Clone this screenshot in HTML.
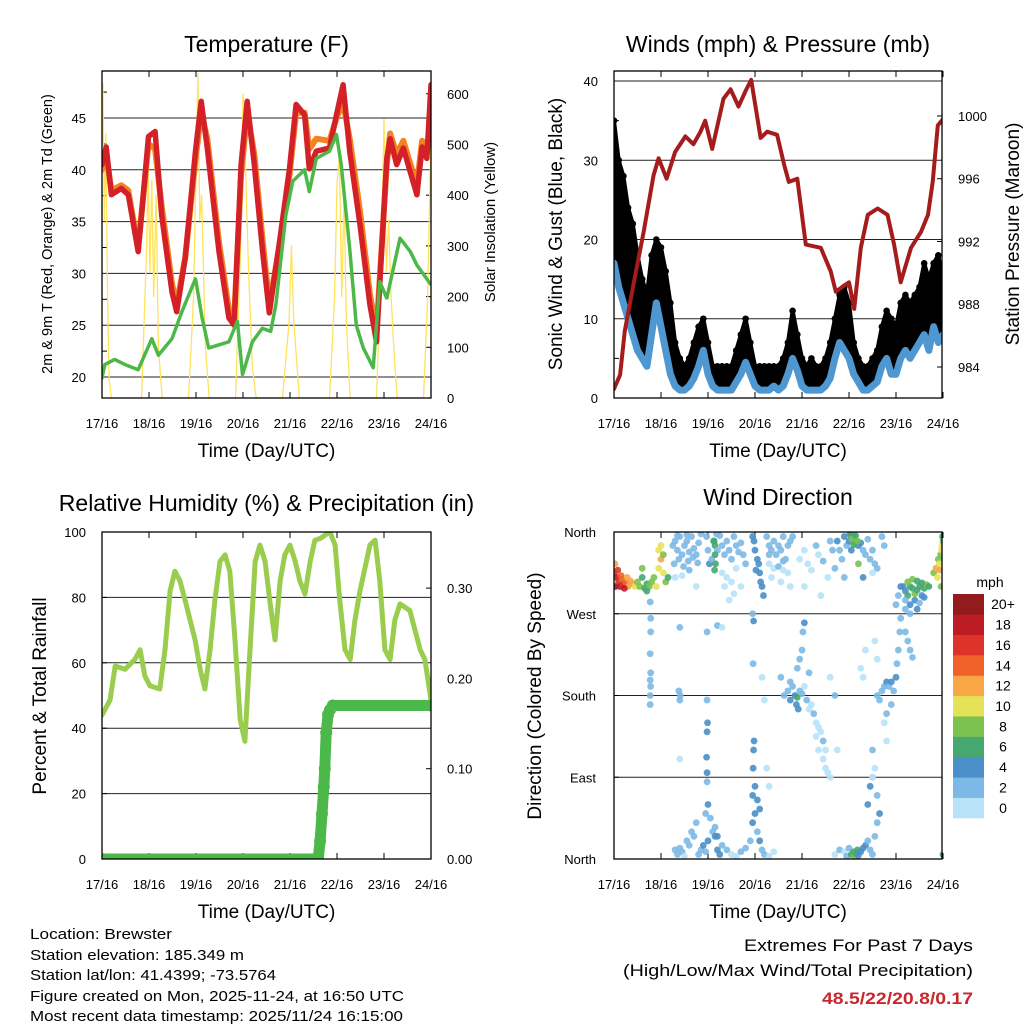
<!DOCTYPE html>
<html><head><meta charset="utf-8"><style>
html,body{margin:0;padding:0;background:#fff}
svg{display:block;font-family:"Liberation Sans",sans-serif}
</style></head><body>
<svg id="fig" width="1024" height="1024" viewBox="0 0 1024 1024" xmlns="http://www.w3.org/2000/svg">
<rect width="1024" height="1024" fill="#fff"/>
<g id="p1"></g>
<g id="p2"></g>
<g id="p3"></g>
<g id="p4"></g>
<g font-size="15" fill="#000">
<text x="30" y="939" textLength="142" lengthAdjust="spacingAndGlyphs">Location: Brewster</text>
<text x="30" y="960" textLength="214" lengthAdjust="spacingAndGlyphs">Station elevation: 185.349 m</text>
<text x="30" y="980" textLength="246" lengthAdjust="spacingAndGlyphs">Station lat/lon: 41.4399; -73.5764</text>
<text x="30" y="1001" textLength="374" lengthAdjust="spacingAndGlyphs">Figure created on Mon, 2025-11-24, at 16:50 UTC</text>
<text x="30" y="1021" textLength="373" lengthAdjust="spacingAndGlyphs">Most recent data timestamp: 2025/11/24 16:15:00</text>
</g>
<g text-anchor="end">
<text x="973" y="951" font-size="17" textLength="229" lengthAdjust="spacingAndGlyphs">Extremes For Past 7 Days</text>
<text x="973" y="976" font-size="17" textLength="350" lengthAdjust="spacingAndGlyphs">(High/Low/Max Wind/Total Precipitation)</text>
<text x="973" y="1004" font-size="17" font-weight="bold" fill="#c8282d" textLength="151" lengthAdjust="spacingAndGlyphs">48.5/22/20.8/0.17</text>
</g>
</svg>
<script>
// ---------- data ----------
const dayLabels=["17/16","18/16","19/16","20/16","21/16","22/16","23/16","24/16"];
const tempTicks=[20,25,30,35,40,45];
const solarTicks=[0,100,200,300,400,500,600];
const windTicks=[0,10,20,30,40];
const presTicks=[984,988,992,996,1000];
const rhTicks=[0,20,40,60,80,100];
const precipTicks=[0,0.1,0.2,0.3];
const precipTickLabels=["0.00","0.10","0.20","0.30"];
const dirTicks=[0,90,180,270,360];
const dirTickLabels=["North","East","South","West","North"];
const speedBins=["0","2","4","6","8","10","12","14","16","18","20+"];
const speedColors=["#b7e2f8","#7cb9e6","#4a8fc8","#46a770","#7bc24e","#e6e257","#f8a646","#f0622a","#dd3328","#bc1c24","#931a1d"];

const tempTime=[0,0.09,0.2,0.41,0.56,0.77,0.99,1.13,1.27,1.49,1.59,1.77,1.99,2.11,2.24,2.49,2.7,2.81,2.96,3.09,3.24,3.41,3.56,3.77,3.99,4.13,4.31,4.41,4.56,4.84,4.99,5.13,5.27,5.49,5.7,5.84,6.06,6.13,6.27,6.41,6.7,6.81,6.91,7];
const temp2m=[40.5,42.2,37.6,38.2,37.6,32.1,43.2,43.7,35.6,28.2,26.3,31.5,41.8,46.6,42.1,32.1,25.7,25,40.5,46.6,40.5,32.4,26.2,32.8,40.1,46.3,45.3,40.1,41.8,42.1,45.3,48.2,41.8,34.7,27,23.4,41.1,43,40.5,42.1,37.6,42.2,41.1,48.2];
const temp9m=[40,41.5,38,38.5,38,32.5,42.5,42,36.5,29,27,31.5,41,45.5,43,33,26.5,25.5,39.5,45.5,41.5,33.5,27,32.5,39.5,45.5,45.5,42,43,42.8,45,46.5,43,36,28,24.5,40.5,43.5,41.5,42.8,38.5,42.8,41.5,46];
const dewTime=[0,0.06,0.27,0.49,0.77,1.06,1.2,1.49,1.7,1.99,2.13,2.27,2.7,2.88,2.99,3.2,3.41,3.59,3.7,3.91,4.06,4.31,4.41,4.56,4.84,4.99,5.09,5.27,5.41,5.56,5.77,5.91,6.06,6.34,6.56,6.7,7];
const dewPoint=[19.9,21.2,21.7,21.2,20.7,23.7,22.1,23.7,26.3,29.5,25.7,22.8,23.4,25.4,20.2,23.4,24.7,24.4,27,35.6,38.9,40,37.9,41.1,41.8,43.4,40.5,32.4,25,22.8,20.9,29.2,27.6,33.4,32.1,30.8,28.9];
const solarTime=[0,0.02,0.05,0.08,0.12,0.15,0.2,0.84,0.95,0.98,1.02,1.06,1.1,1.15,1.2,1.28,1.84,1.95,2.0,2.04,2.08,2.12,2.2,2.28,2.84,2.95,3.0,3.03,3.07,3.12,3.2,3.28,3.84,3.98,4.03,4.08,4.2,4.84,4.95,5.0,5.05,5.1,5.15,5.2,5.28,5.84,5.95,6.0,6.05,6.1,6.15,6.22,6.28,6.84,6.93,6.97,7.0];
const solarW=[500,620,350,520,200,40,0,0,300,450,250,430,200,400,100,0,0,200,450,640,350,400,100,0,0,300,600,560,400,250,60,0,0,150,300,150,0,0,200,420,480,200,400,150,0,0,300,550,250,350,200,80,0,0,200,400,520];

const windTime=[0,0.1,0.2,0.3,0.4,0.5,0.6,0.7,0.8,0.9,1.0,1.1,1.2,1.3,1.4,1.5,1.6,1.7,1.8,1.9,2.0,2.1,2.2,2.3,2.4,2.5,2.6,2.7,2.8,2.9,3.0,3.1,3.2,3.3,3.4,3.5,3.6,3.7,3.8,3.9,4.0,4.1,4.2,4.3,4.4,4.5,4.6,4.7,4.8,4.9,5.0,5.1,5.2,5.3,5.4,5.5,5.6,5.7,5.8,5.9,6.0,6.1,6.2,6.3,6.4,6.5,6.6,6.7,6.8,6.9,7.0];
const gust=[28,22,20,17,15,11,10,8,12,17,14,11,8,4,3,3,3.5,5,7,8,5,3,3,3,3,3,4,5.5,7,5,3,3,3,3,3,3,3.5,5,7,6,3,2.5,3,2.5,3,3.5,5,7,9,9,8,5,3.5,3,3,3,4,6,8,7,6,8,9,8,9,10,12,10,11,12,10];
const gustHigh=[35,30,28,24,22,18,15,13,18,20,19,16,12,7,5,4,5,7,9,10,7,4,4,4,4,4,6,8,10,7,4,4,4,4,4,4,5,7,11,8,5,4,5,4,4,5,7,10,13,14,12,7,5,4,4,5,6,9,11,10,9,12,13,12,13,14,17,15,17,18,15];
const sonicWind=[17,14,12,10,8,6,5,4,8,12,9,6,3,1.5,1,1,1.5,2.5,4,6,3,1.5,1,1,1,1,2,3,4.5,3,1.5,1,1,1,1.5,1,1.5,3,5,3.5,1.5,1,1,1,1,1.5,2.5,5,7,6,5,3,2,1,1,1.5,2,4,5,3,3,5,6,5,6,7,8,6,9,7,8];
const presTime=[0,0.13,0.23,0.41,0.63,0.84,0.95,1.12,1.3,1.52,1.69,1.84,1.94,2.09,2.33,2.48,2.65,2.8,2.92,3.12,3.26,3.47,3.62,3.72,3.9,4.08,4.4,4.61,4.72,4.9,5.0,5.11,5.25,5.4,5.61,5.82,5.96,6.1,6.32,6.53,6.68,6.78,6.89,7.0];
const pressure=[982.6,983.5,986.3,989.2,992.6,996.2,997.3,996,997.7,998.7,998.2,999,999.7,997.9,1001.1,1001.7,1000.6,1001.6,1002.3,998.6,999,998.8,996.9,995.8,996,991.8,991.6,990.1,988.8,989.2,989.4,987.7,991.6,993.7,994.1,993.7,991.8,989.4,991.6,992.6,993.7,995.8,999.4,999.8];

const rhTime=[0,0.17,0.28,0.49,0.70,0.81,0.91,1.02,1.23,1.34,1.45,1.55,1.66,1.77,1.98,2.09,2.19,2.30,2.40,2.51,2.62,2.72,2.83,2.94,3.04,3.15,3.26,3.36,3.47,3.57,3.68,3.79,3.89,4.0,4.11,4.21,4.32,4.43,4.53,4.64,4.74,4.85,4.96,5.06,5.17,5.28,5.38,5.49,5.70,5.81,5.91,6.02,6.13,6.23,6.34,6.55,6.77,6.87,7.0];
const rhPct=[44,48.6,59,58,61,64,56,53,52,64,82,88,85,79,67,58,52,64,79,91,93,88,67,42.5,36,64,91,96,91,79,67,85,93,96,91,85,81,91,97.5,98,99,100,96,79,64,61,73,82,96,97.5,85,64,61,73,78,76,64,61,48.6];
const precipTime=[0,4.6,4.64,4.68,4.72,4.74,4.77,4.81,4.85,4.91,7.0];
const precipIn=[0,0,0.02,0.05,0.08,0.1,0.14,0.16,0.165,0.17,0.17];

const wdTime=[
0,0.03,0.06,0.1,0.13,0.17,0.2,0.25,0.3,0.35,0.4,0.45,0.02,0.08,0.15,0.22,0.28,
0.5,0.55,0.6,0.65,0.7,0.75,0.8,0.85,0.9,0.95,1.0,1.05,1.1,1.15,0.95,1.0,1.05,0.6,0.7,
0.77,0.78,0.78,0.77,0.78,0.77,0.78,
1.25,1.3,1.35,1.4,1.45,1.5,1.55,1.6,1.65,1.7,1.75,1.8,1.85,1.28,1.38,1.48,1.58,1.68,1.78,1.3,1.45,1.6,1.75,1.35,1.55,
1.97,2.0,2.03,2.08,2.12,2.15,2.18,2.2,2.25,2.3,2.35,2.4,2.45,2.5,2.55,2.6,2.65,2.7,2.75,2.8,2.13,2.15,2.16,2.14,2.3,2.4,2.5,2.6,2.7,2.45,2.55,2.35,
2.95,2.98,3.0,3.05,3.1,3.12,3.15,3.18,3.02,3.08,
3.25,3.3,3.35,3.4,3.45,3.5,3.55,3.6,3.65,3.7,3.75,3.8,3.3,3.4,3.5,3.6,3.7,3.35,3.55,3.75,3.3,3.6,
3.95,4.05,4.12,4.2,4.3,4.35,4.45,4.55,4.6,4.65,4.7,4.05,4.4,
4.75,4.8,4.85,4.9,4.95,5.0,5.05,5.1,5.15,5.2,5.25,5.3,5.35,5.4,5.45,5.5,5.55,5.6,5.02,5.06,5.1,5.14,5.18,5.2,4.9,5.3,5.5,5.7,5.75,
6.15,6.2,6.25,6.3,6.35,6.4,6.45,6.5,6.55,6.6,6.65,6.7,6.2,6.3,6.4,6.5,6.6,6.25,6.35,6.45,6.55,6.2,6.3,6.45,
6.8,6.85,6.88,6.9,6.92,6.95,6.97,6.98,7.0,6.99,6.93,6.96,
3.62,3.7,3.75,3.8,3.85,3.9,3.95,4.0,4.05,4.1,4.15,4.2,4.25,4.3,4.35,4.4,4.45,4.5,3.9,3.95,4.0,4.02,4.05,4.3,4.35,4.45,4.5,4.55,4.6,3.55,3.75,4.15,4.7,4.6,3.88,3.92,
5.6,5.65,5.7,5.75,5.8,5.85,5.9,5.95,6.0,6.02,6.05,6.08,6.1,5.55,5.6,5.75,5.8,6.0,6.05,6.1,5.9,5.8,
1.3,1.35,1.4,1.45,1.5,1.55,1.6,1.65,1.7,1.75,1.8,1.85,1.9,1.95,2.0,2.1,2.15,2.2,2.25,2.3,2.4,2.5,2.6,2.7,2.8,2.9,2.95,3.0,3.05,3.1,3.15,3.2,3.3,3.4,1.95,2.0,2.05,2.15,2.2,2.95,3.0,3.05,3.1,
4.7,4.8,4.9,4.95,5.0,5.05,5.1,5.12,5.15,5.18,5.2,5.25,5.3,5.35,5.4,5.45,5.5,5.55,5.6,5.65,5.4,5.45,5.5,5.6,7.0,
0.77,0.77,1.4,1.41,1.4,1.38,1.4,1.98,1.98,1.99,1.98,1.97,1.98,1.98,2.2,2.3,2.95,2.97,2.96,2.98,2.97,2.96,3.15,3.2,3.25,3.3,5.35,5.3,5.5,5.55,5.5,5.25,6.2,6.25,6.3,6.35,4.75];
const wdDir=[
315,300,310,305,300,308,302,305,300,306,303,300,325,318,312,298,310,
305,300,310,298,303,300,305,310,300,320,330,315,305,310,340,345,335,320,295,
283,265,250,226,205,197,190,
345,350,340,355,335,345,350,338,355,342,335,348,358,325,330,322,328,332,326,310,312,318,300,356,357,
355,340,325,330,350,345,358,340,356,345,335,350,340,330,355,345,338,348,335,325,350,335,325,318,315,310,305,320,300,285,292,300,
355,350,340,330,315,305,300,290,318,325,
355,345,340,350,335,345,340,355,330,345,350,355,325,320,322,318,315,310,305,300,335,328,
330,340,325,318,345,335,328,310,350,340,320,300,290,
350,340,330,355,345,350,340,355,350,345,348,340,335,352,330,340,325,320,358,352,346,356,350,325,310,310,315,355,345,
300,295,290,300,298,292,296,300,290,298,302,300,285,280,285,282,288,305,308,306,304,275,270,275,
315,320,310,330,325,335,340,345,350,355,318,300,
180,185,175,190,180,178,185,182,190,175,165,170,160,150,145,140,130,120,210,220,230,250,260,135,120,110,100,95,90,200,195,205,180,200,170,165,
180,175,185,190,195,190,195,185,200,215,230,250,265,240,220,150,130,280,290,300,170,160,
10,5,12,8,3,20,15,30,25,40,5,10,15,8,20,30,25,10,5,15,10,5,3,8,12,20,40,50,30,20,10,5,3,8,50,60,45,35,25,70,80,65,55,
5,10,8,3,12,5,8,3,6,10,4,8,12,15,20,10,5,25,40,50,60,80,90,70,5,
180,170,255,180,175,185,110,250,175,150,140,112,95,85,257,255,270,262,215,130,120,100,200,175,100,80,230,200,120,100,90,210,250,240,230,222,120];
const wdSpeed=[
16,20,18,16,18,14,16,14,12,12,12,10,12,16,14,18,13,
8,8,6,7,6,8,9,8,10,11,12,10,8,7,10,11,8,9,6,
2,2,2,2,2,2,2,
2,3,2,3,2,3,3,2,3,2,3,2,3,2,2,3,2,2,3,1,1,2,1,3,2,
3,2,4,3,6,7,3,2,3,3,2,3,3,2,3,3,2,3,3,2,6,7,6,6,1,1,1,1,1,1,1,1,
4,4,5,4,5,4,5,4,4,4,
3,3,2,3,3,2,3,3,2,3,2,3,1,1,2,1,1,1,1,1,2,2,
1,1,1,1,2,1,2,1,3,2,2,1,1,
4,3,3,4,3,4,4,6,5,4,4,3,3,3,3,2,2,2,7,8,6,7,8,8,2,4,1,2,2,
4,4,6,7,6,8,7,6,4,6,8,7,3,4,4,3,4,8,8,6,6,3,3,4,
8,12,10,8,10,8,10,10,8,6,12,8,
2,3,4,3,4,6,3,2,1,2,1,1,2,1,1,1,2,1,3,3,2,3,4,1,1,1,1,1,1,3,3,2,3,1,4,4,
2,3,2,3,4,3,4,3,4,3,3,3,3,1,1,1,1,3,3,4,3,2,
2,2,3,2,1,3,2,3,2,3,2,3,4,3,4,3,4,5,4,3,2,1,1,2,2,3,4,4,3,4,3,2,1,1,3,4,3,3,4,4,5,4,4,
1,2,1,2,3,6,7,8,7,6,4,4,5,4,3,2,2,3,3,4,4,4,3,3,6,
2,2,2,2,2,2,1,2,3,4,4,4,4,3,2,1,3,4,2,4,4,4,1,1,1,1,1,1,2,1,1,1,2,2,2,3,1];

// ---------- helpers ----------
const NS="http://www.w3.org/2000/svg";
function mk(parent,tag,attrs,text){const e=document.createElementNS(NS,tag);for(const k in attrs)e.setAttribute(k,attrs[k]);if(text!==undefined)e.textContent=text;parent.appendChild(e);return e;}
function pathD(xs,ys,fx,fy){let d="";for(let i=0;i<Math.min(xs.length,ys.length);i++){d+=(i?"L":"M")+fx(xs[i]).toFixed(1)+","+fy(ys[i]).toFixed(1);}return d;}
function poly(parent,xs,ys,fx,fy,attrs){return mk(parent,"path",Object.assign({d:pathD(xs,ys,fx,fy),fill:"none","stroke-linejoin":"round","stroke-linecap":"round"},attrs));}

function frame(g,L,T,R,B,title,ty,xlabelY){
  const t=mk(g,"text",{x:(L+R)/2,y:ty,"font-size":"23","text-anchor":"middle"},title);
  
  
  for(let i=0;i<dayLabels.length;i++){
    const x=L+i*47;
    mk(g,"line",{x1:x,y1:B,x2:x,y2:B-6,stroke:"#000","stroke-width":"1"});
    mk(g,"line",{x1:x,y1:T,x2:x,y2:T+6,stroke:"#000","stroke-width":"1"});
    const lb=mk(g,"text",{x:x,y:B+30,"font-size":"13","text-anchor":"middle"},dayLabels[i]);
    
    
  }
  const xt=mk(g,"text",{x:(L+R)/2,y:xlabelY,"font-size":"19","text-anchor":"middle"},"Time (Day/UTC)");
  
  
}
function border(g,L,T,R,B){const r=mk(g,"rect",{x:L,y:T,width:R-L,height:B-T,fill:"none",stroke:"#000","stroke-width":"1.3"});}
function grid(g,L,R,y){mk(g,"line",{x1:L,y1:y,x2:R,y2:y,stroke:"#222","stroke-width":"1"});}
function minor(g,x,y,T,B,dir){if(y>T+1&&y<B-1)mk(g,"line",{x1:x,y1:y,x2:x+dir*5,y2:y,stroke:"#000"});}
function vlabel(g,x,y,txt,size,name){const t=mk(g,"text",{x:x,y:y,"font-size":size,"text-anchor":"middle",transform:"rotate(-90 "+x+" "+y+")"},txt);}

// ---------- Panel 1 ----------
(function(){
const g=document.getElementById("p1");const L=102,T=71,R=431,B=398;
const X=d=>L+d*47, Y=v=>377-(v-20)*10.36, YS=w=>398-w*0.507;
frame(g,L,T,R,B,"Temperature (F)",52,457);
tempTicks.forEach(v=>{grid(g,L,R,Y(v));const t=mk(g,"text",{x:L-16,y:Y(v)+5,"font-size":"13","text-anchor":"end"},String(v));minor(g,L,Y(v+2.5),T,B,1);});
solarTicks.forEach(v=>{const t=mk(g,"text",{x:R+16,y:YS(v)+5,"font-size":"13"},String(v));minor(g,R,YS(v),T-2,B+2,-1);});
const cp=mk(g,"g",{"clip-path":"url(#c1)"});
const s=poly(cp,solarTime,solarW,X,YS,{stroke:"#ffe35a","stroke-width":"1.3"});
const o=poly(cp,tempTime,temp9m,X,Y,{stroke:"#f58220","stroke-width":"6"});
const r=poly(cp,tempTime,temp2m,X,Y,{stroke:"#d42027","stroke-width":"5.5"});
const dg=poly(cp,dewTime,dewPoint,X,Y,{stroke:"#4cb848","stroke-width":"3.5","stroke-dasharray":"3 1.2"});
border(g,L,T,R,B);
vlabel(g,52,234,"2m & 9m T (Red, Orange) & 2m Td (Green)","14.5","left-y-axis-title");
vlabel(g,495,222,"Solar Insolation (Yellow)","15","right-y-axis-title");
})();

// ---------- Panel 2 ----------
(function(){
const g=document.getElementById("p2");const L=614,T=71,R=942,B=398;
const X=d=>L+d*47, Y=v=>398-v*7.925, YP=p=>367-(p-984)*15.69;
frame(g,L,T,R,B,"Winds (mph) & Pressure (mb)",52,457);
windTicks.forEach(v=>{if(v>0)grid(g,L,R,Y(v));const t=mk(g,"text",{x:L-16,y:Y(v)+5,"font-size":"13","text-anchor":"end"},String(v));minor(g,L,Y(v+5),T,B,1);});
presTicks.forEach(v=>{const t=mk(g,"text",{x:R+16,y:YP(v)+5,"font-size":"13"},String(v));minor(g,R,YP(v),T,B,-1);});
const cp=mk(g,"g",{"clip-path":"url(#c2)"});
// black gust band between sonic wind and gust upper envelope
let d=pathD(windTime,gustHigh,X,Y);
for(let i=windTime.length-1;i>=0;i--){d+="L"+X(windTime[i]).toFixed(1)+","+Y(sonicWind[i]).toFixed(1);}
const band=mk(cp,"path",{d:d+"Z",fill:"#000",stroke:"#000","stroke-width":"4","stroke-linejoin":"round"});


for(let i=0;i<windTime.length;i++){
  const c=mk(cp,"circle",{cx:X(windTime[i]),cy:Y(gustHigh[i]),r:3.3,fill:"#000"});
  const c2=mk(cp,"circle",{cx:X(windTime[i]),cy:Y(gust[i]),r:3.3,fill:"#000"});
}
const wl=poly(cp,windTime,sonicWind,X,Y,{stroke:"#4e97d1","stroke-width":"7"});
const pl=poly(cp,presTime,pressure,X,YP,{stroke:"#a51c1c","stroke-width":"4"});
border(g,L,T,R,B);
vlabel(g,562,234,"Sonic Wind & Gust (Blue, Black)","19","left-y-axis-title");
vlabel(g,1019,234,"Station Pressure (Maroon)","19","right-y-axis-title");
})();

// ---------- Panel 3 ----------
(function(){
const g=document.getElementById("p3");const L=102,T=532,R=431,B=859;
const X=d=>L+d*47, Y=v=>859-v*3.27, YP=p=>859-p*903;
frame(g,L,T,R,B,"Relative Humidity (%) & Precipitation (in)",511,918);
rhTicks.forEach(v=>{if(v>0&&v<100)grid(g,L,R,Y(v));const t=mk(g,"text",{x:L-16,y:Y(v)+5,"font-size":"13","text-anchor":"end"},String(v));minor(g,L,Y(v),T,B,1);});
precipTicks.forEach((v,i)=>{const t=mk(g,"text",{x:R+16,y:YP(v)+5,"font-size":"13"},precipTickLabels[i]);minor(g,R,YP(v),T,B,-1);});
const cp=mk(g,"g",{"clip-path":"url(#c3)"});
const rl=poly(cp,rhTime,rhPct,X,Y,{stroke:"#9acd4e","stroke-width":"5"});
const pl=poly(cp,precipTime,precipIn,X,YP,{stroke:"#4cb84a","stroke-width":"11"});
for(let i=0;i<precipTime.length;i++){const c=mk(cp,"circle",{cx:X(precipTime[i]),cy:YP(precipIn[i]),r:6,fill:"#4cb84a"});}
border(g,L,T,R,B);
vlabel(g,46,696,"Percent & Total Rainfall","19","left-y-axis-title");
})();

// ---------- Panel 4 ----------
(function(){
const g=document.getElementById("p4");const L=614,T=532,R=942,B=859;
const X=d=>L+d*47, Y=v=>859-v*327/360;
frame(g,L,T,R,B,"Wind Direction",505,918);
dirTicks.forEach((v,i)=>{if(v>0&&v<360)grid(g,L,R,Y(v));const t=mk(g,"text",{x:L-18,y:Y(v)+5,"font-size":"13","text-anchor":"end"},dirTickLabels[i]);minor(g,L,Y(v),T,B,1);});
const cp=mk(g,"g",{"clip-path":"url(#c4)"});
const n=Math.min(wdTime.length,wdDir.length,wdSpeed.length);
for(let i=0;i<n;i++){const b=Math.min(10,Math.floor(wdSpeed[i]/2));const c=mk(cp,"circle",{cx:X(wdTime[i]),cy:Y(wdDir[i]),r:3.4,fill:speedColors[b],"fill-opacity":"0.9"});}
border(g,L,T,R,B);
vlabel(g,541,696,"Direction (Colored By Speed)","19","left-y-axis-title");
const cb=mk(g,"g",{});
const ut=mk(cb,"text",{x:990,y:587,"font-size":"14","text-anchor":"middle"},"mph");
const h=224/11;
for(let k=0;k<speedBins.length;k++){const y0=594+(10-k)*h;mk(cb,"rect",{x:953,y:y0,width:31,height:h+0.3,fill:speedColors[k]});const t=mk(cb,"text",{x:1003,y:y0+h/2+5,"font-size":"14","text-anchor":"middle"},speedBins[k]);}
})();

const defs=mk(document.getElementById("fig"),"defs",{});
[["c1",102,71,431,398],["c2",614,71,942,398],["c3",102,532,431,859],["c4",614,532,942,859]].forEach(c=>{const cp=mk(defs,"clipPath",{id:c[0]});mk(cp,"rect",{x:c[1],y:c[2],width:c[3]-c[1],height:c[4]-c[2]});});
</script>
</body></html>
